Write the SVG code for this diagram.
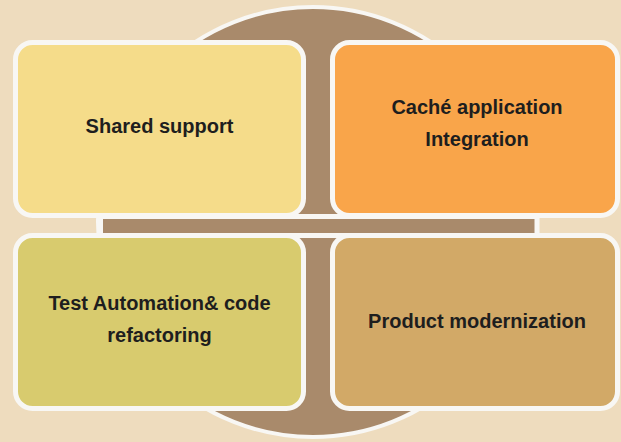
<svg xmlns="http://www.w3.org/2000/svg" width="621" height="442" viewBox="0 0 621 442">
<style>
.box{stroke:#F8F7F4;stroke-width:5}
.lbl{font-family:"Liberation Sans",Arial,sans-serif;font-weight:bold;font-size:20px;fill:#1E1E1E;text-anchor:middle}
</style>
<rect x="0" y="0" width="621" height="442" fill="#EEDCBE"/>
<g id="background">
<circle cx="313" cy="222" r="215" fill="#A98A6B" stroke="#F8F7F4" stroke-width="4"/>
<rect x="100.5" y="216.5" width="436.5" height="19" fill="#A98A6B" stroke="#F8F7F4" stroke-width="5"/>
</g>
<g id="connectors"></g>
<g id="node-shared">
<rect class="box" x="15.5" y="42.5" width="288" height="173" rx="17" fill="#F5DC8A"/>
<text class="lbl" x="159.5" y="133">Shared support</text>
</g>
<g id="node-cache">
<rect class="box" x="332.5" y="42.5" width="285" height="173" rx="17" fill="#F9A54A"/>
<text class="lbl" x="477" y="114">Caché application</text>
<text class="lbl" x="477" y="146">Integration</text>
</g>
<g id="node-test">
<rect class="box" x="15.5" y="235.5" width="288" height="173" rx="17" fill="#D8CB6E"/>
<text class="lbl" x="159.5" y="310">Test Automation&amp; code</text>
<text class="lbl" x="159.5" y="342">refactoring</text>
</g>
<g id="node-product">
<rect class="box" x="332.5" y="235.5" width="285" height="173" rx="17" fill="#D2A967"/>
<text class="lbl" x="477" y="328">Product modernization</text>
</g>
</svg>
